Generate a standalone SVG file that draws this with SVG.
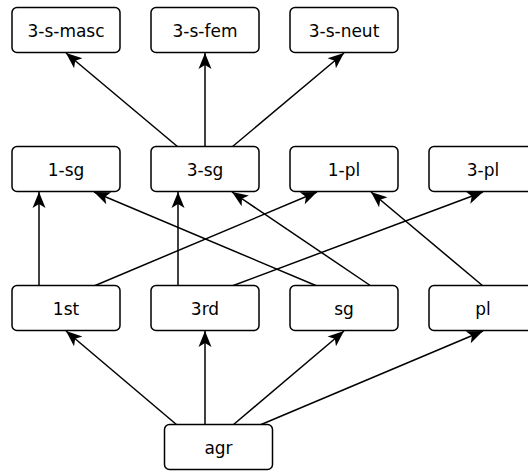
<svg xmlns="http://www.w3.org/2000/svg" width="528" height="472" viewBox="0 0 528 472">
<defs>
<style>
rect{fill:#fff;stroke:#000;stroke-width:1.5}
text{font-family:"DejaVu Sans",sans-serif;font-size:17px;text-anchor:middle;fill:#000}
#edges line{stroke:#000;stroke-width:1.5;marker-end:url(#ah)}
</style>
<marker id="ah" markerUnits="userSpaceOnUse" viewBox="-17 -8 18 16" refX="0" refY="0" markerWidth="18" markerHeight="16" orient="auto">
<path d="M0,0 L-16,-6.5 L-12,0 L-16,6.5 Z" fill="#000"/>
</marker>
</defs>
<rect x="0" y="0" width="528" height="472" style="fill:#fff;stroke:none"/>
<g id="edges">
<line x1="178" y1="147" x2="66" y2="53"/>
<line x1="205" y1="147" x2="205" y2="53"/>
<line x1="232" y1="147" x2="344" y2="53"/>
<line x1="39" y1="286" x2="39" y2="192"/>
<line x1="94" y1="286" x2="317" y2="192"/>
<line x1="178" y1="286" x2="178" y2="192"/>
<line x1="232" y1="286" x2="483" y2="192"/>
<line x1="317" y1="286" x2="94" y2="192"/>
<line x1="371" y1="286" x2="232" y2="192"/>
<line x1="483" y1="286" x2="371" y2="192"/>
<line x1="177" y1="425" x2="66" y2="331"/>
<line x1="205" y1="425" x2="205" y2="331"/>
<line x1="233" y1="425" x2="344" y2="331"/>
<line x1="260" y1="425" x2="483" y2="331"/>
</g>
<g id="n-3-s-masc"><rect x="12" y="7.5" width="108" height="45" rx="5"/><text x="66" y="36.5">3-s-masc</text></g>
<g id="n-3-s-fem"><rect x="151" y="7.5" width="108" height="45" rx="5"/><text x="205" y="36.5">3-s-fem</text></g>
<g id="n-3-s-neut"><rect x="290" y="7.5" width="108" height="45" rx="5"/><text x="344" y="36.5">3-s-neut</text></g>
<g id="n-1-sg"><rect x="12" y="146.5" width="108" height="45" rx="5"/><text x="66" y="175.5">1-sg</text></g>
<g id="n-3-sg"><rect x="151" y="146.5" width="108" height="45" rx="5"/><text x="205" y="175.5">3-sg</text></g>
<g id="n-1-pl"><rect x="290" y="146.5" width="108" height="45" rx="5"/><text x="344" y="175.5">1-pl</text></g>
<g id="n-3-pl"><rect x="429" y="146.5" width="108" height="45" rx="5"/><text x="483" y="175.5">3-pl</text></g>
<g id="n-1st"><rect x="12" y="285.5" width="108" height="45" rx="5"/><text x="66" y="314.5">1st</text></g>
<g id="n-3rd"><rect x="151" y="285.5" width="108" height="45" rx="5"/><text x="205" y="314.5">3rd</text></g>
<g id="n-sg"><rect x="290" y="285.5" width="108" height="45" rx="5"/><text x="344" y="314.5">sg</text></g>
<g id="n-pl"><rect x="429" y="285.5" width="108" height="45" rx="5"/><text x="483" y="314.5">pl</text></g>
<g id="n-agr"><rect x="164.5" y="424.5" width="108" height="45" rx="5"/><text x="218.5" y="453.5">agr</text></g>
</svg>
